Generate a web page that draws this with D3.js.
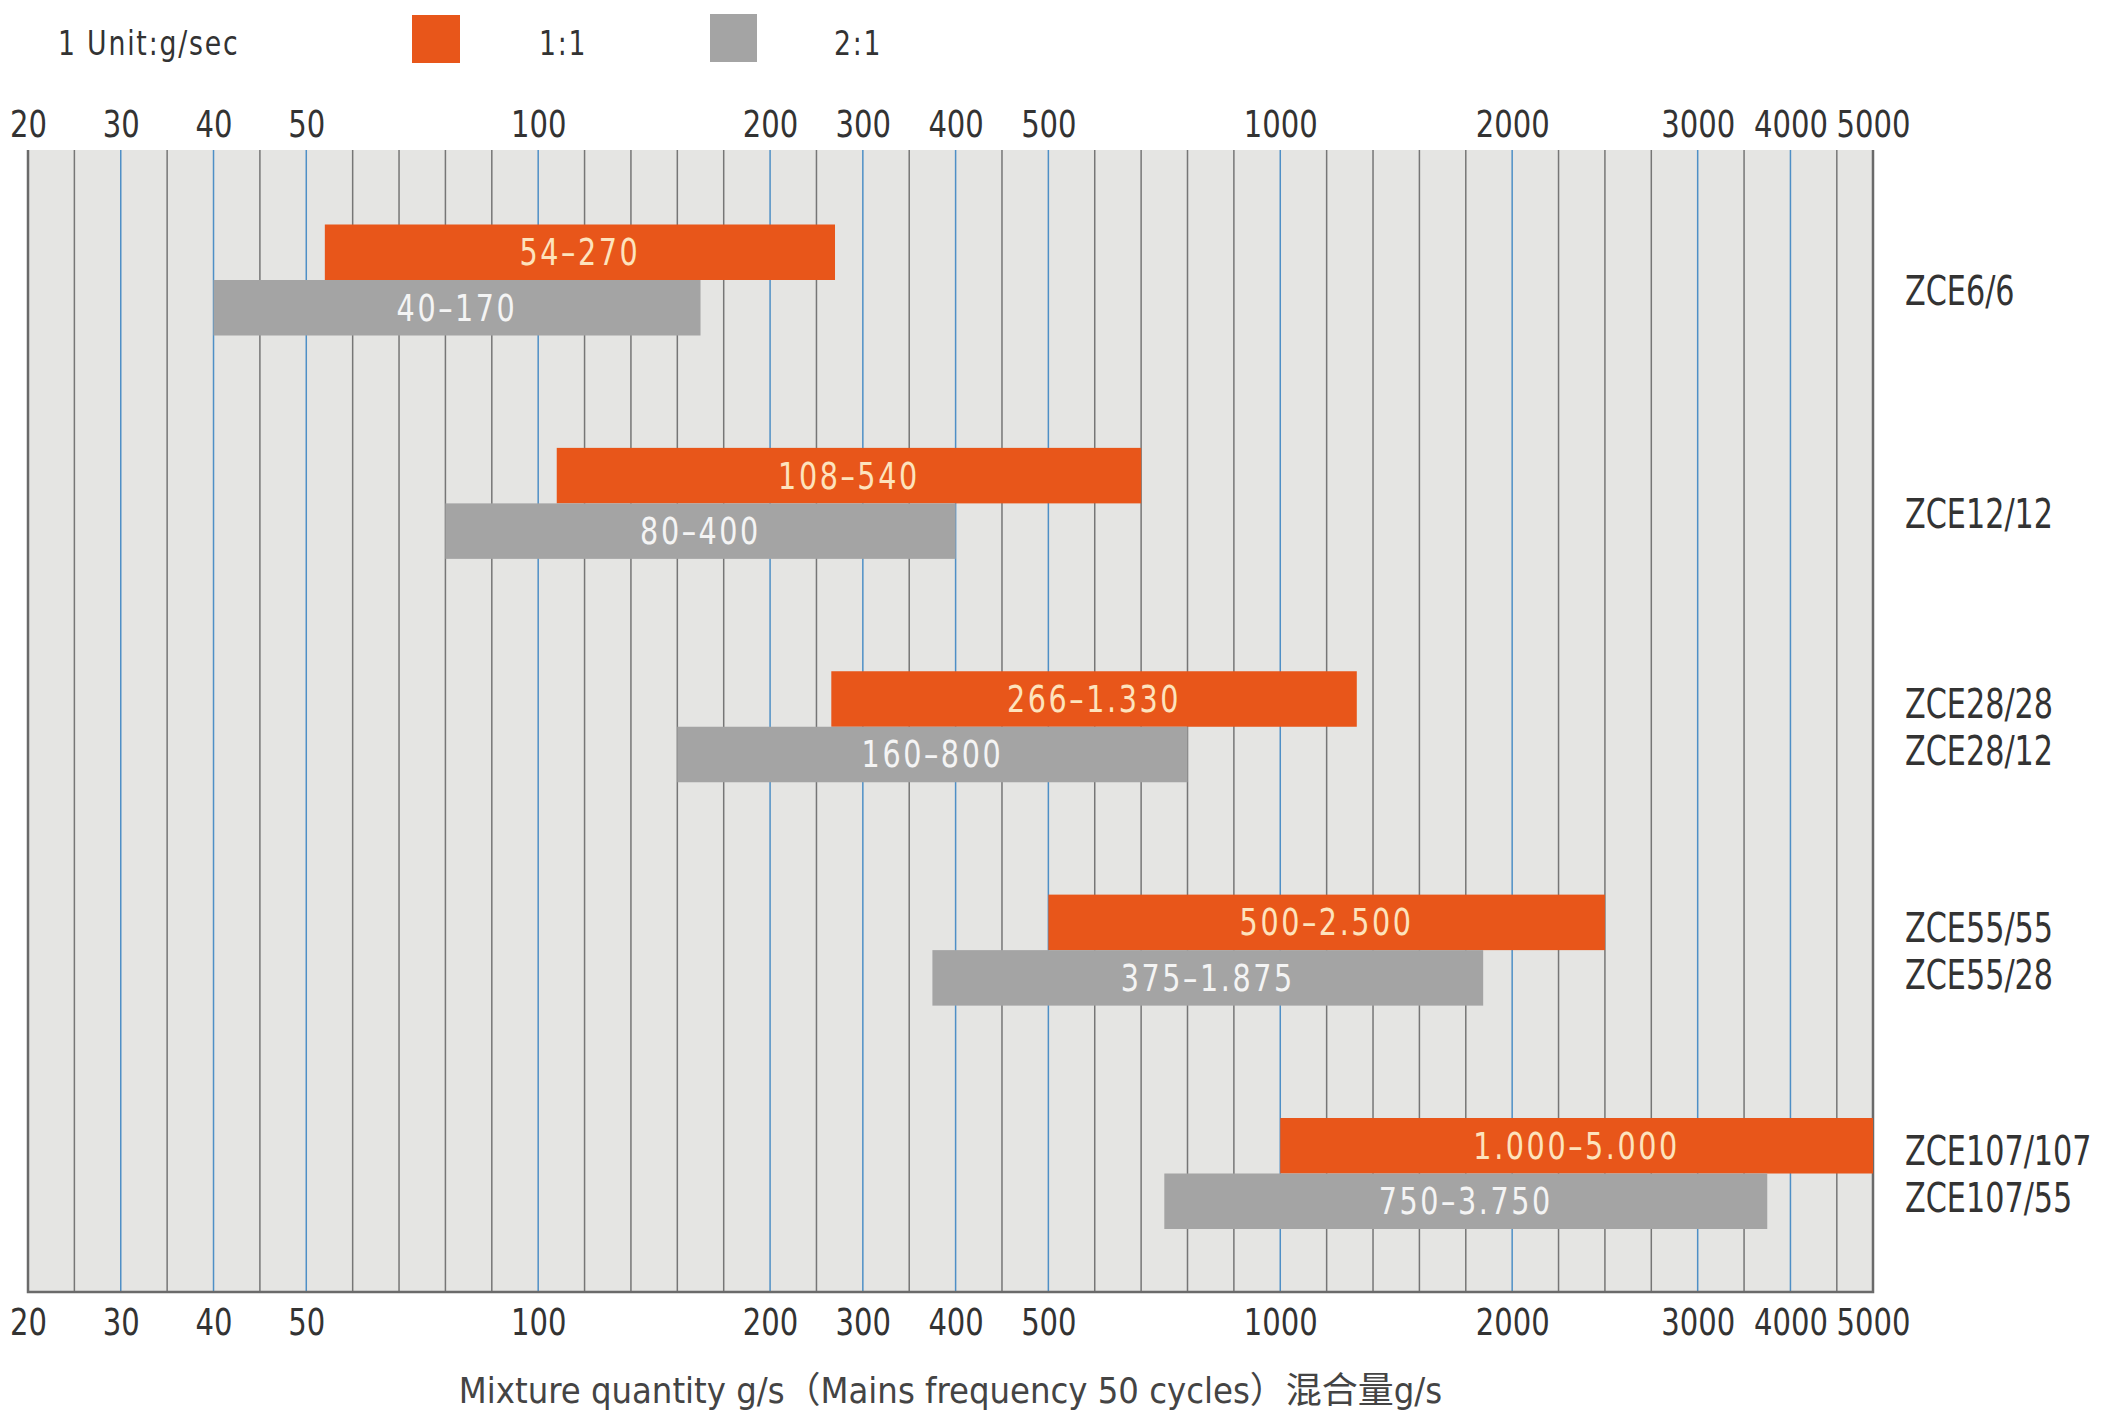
<!DOCTYPE html>
<meta charset="utf-8">
<title>ZCE mixture quantity</title>
<style>
  body { margin: 0; background: #fff; }
  text { font-family: "DejaVu Sans Condensed", "DejaVu Sans", "Noto Sans CJK SC", sans-serif; font-stretch: condensed; fill: #333; }
</style>
<body>
<div id="chart"></div>
<script src="https://d3js.org/d3.v7.min.js"></script>
<script>

// data
var groups = ["ZCE6", "ZCE12", "ZCE28", "ZCE55", "ZCE107"];
var modelLabels = [["ZCE6/6"], ["ZCE12/12"], ["ZCE28/28", "ZCE28/12"], ["ZCE55/55", "ZCE55/28"], ["ZCE107/107", "ZCE107/55"]];
var ratio11 = [[54, 270], [108, 700], [266, 1330], [500, 2500], [1000, 5000]];
var ratio11Labels = ["54–270", "108–540", "266–1.330", "500–2.500", "1.000–5.000"];
var ratio21 = [[40, 170], [80, 400], [160, 800], [375, 1875], [750, 3750]];
var ratio21Labels = ["40–170", "80–400", "160–800", "375–1.875", "750–3.750"];
var tickValues = [20, 30, 40, 50, 100, 200, 300, 400, 500, 1000, 2000, 3000, 4000, 5000];

var W = 2122, H = 1414;
var plot = {left: 28, right: 1873, top: 150, bottom: 1292};
var orange = "#e8561a", grey = "#a4a4a4";

var svg = d3.select("#chart").append("svg")
    .attr("width", W).attr("height", H);

// narrow a text horizontally around its anchor point (the print uses a condensed face)
function squeeze(sel, s) {
  sel.attr("transform", function() {
    var tx = +this.getAttribute("x") || 0, ty = +this.getAttribute("y") || 0;
    return "translate(" + tx + "," + ty + ") scale(" + s + ",1) translate(" + (-tx) + "," + (-ty) + ")";
  });
}

// the axis is hand drawn: each tick sits on a line of an even 40 step grid
var tickGrid = [0, 2, 4, 6, 11, 16, 18, 20, 22, 27, 32, 36, 38, 39.78];
var gx = d3.scaleLinear().domain([0, 39.78]).range([plot.left, plot.right]);
var x = d3.scaleLinear().domain(tickValues).range(tickGrid.map(gx));

var y = d3.scalePoint().domain(groups).range([280, 1173.5]);
var barH = 55.5;

// plot background
svg.append("rect")
    .attr("x", plot.left).attr("y", plot.top)
    .attr("width", plot.right - plot.left).attr("height", plot.bottom - plot.top)
    .attr("fill", "#e5e5e3");

// grid lines
var gridIdx = d3.range(1, 40);
svg.append("g").selectAll("line")
  .data(gridIdx)
  .enter().append("line")
    .attr("x1", function(d) { return gx(d); })
    .attr("x2", function(d) { return gx(d); })
    .attr("y1", plot.top).attr("y2", plot.bottom)
    .attr("stroke", function(d) { return tickGrid.indexOf(d) >= 0 ? "#4e8fc6" : "#767676"; })
    .attr("stroke-width", 1.5);

// frame: left, right, bottom
svg.append("path")
    .attr("d", "M" + plot.left + "," + plot.top + "V" + plot.bottom + "H" + plot.right + "V" + plot.top)
    .attr("fill", "none").attr("stroke", "#6a6a6a").attr("stroke-width", 2.5);

// bars
var g = svg.append("g");
g.selectAll(".b11").data(ratio11).enter().append("rect")
    .attr("x", function(d) { return x(d[0]); })
    .attr("width", function(d) { return x(d[1]) - x(d[0]); })
    .attr("y", function(d, i) { return y(groups[i]) - barH; })
    .attr("height", barH)
    .attr("fill", orange);
g.selectAll(".b21").data(ratio21).enter().append("rect")
    .attr("x", function(d) { return x(d[0]); })
    .attr("width", function(d) { return x(d[1]) - x(d[0]); })
    .attr("y", function(d, i) { return y(groups[i]); })
    .attr("height", barH)
    .attr("fill", grey);

// bar labels
g.selectAll(".l11").data(ratio11).enter().append("text")
    .attr("x", function(d) { return (x(d[0]) + x(d[1])) / 2; })
    .attr("y", function(d, i) { return y(groups[i]) - barH / 2 + 13; })
    .attr("text-anchor", "middle")
    .style("font-size", "37px").style("letter-spacing", "3px")
    .style("fill", "#fde3bd")
    .text(function(d, i) { return ratio11Labels[i]; })
    .call(squeeze, 0.86);
g.selectAll(".l21").data(ratio21).enter().append("text")
    .attr("x", function(d) { return (x(d[0]) + x(d[1])) / 2; })
    .attr("y", function(d, i) { return y(groups[i]) + barH / 2 + 13; })
    .attr("text-anchor", "middle")
    .style("font-size", "37px").style("letter-spacing", "3px")
    .style("fill", "#f4f4f4")
    .text(function(d, i) { return ratio21Labels[i]; })
    .call(squeeze, 0.86);

// axes top and bottom
function styleAxis(sel) {
  sel.select(".domain").remove();
  sel.selectAll(".tick line").remove();
  sel.selectAll(".tick text")
    .style("font-size", "38px")
    .style("font-family", null)
    .attr("fill", "#333")
    .attr("transform", "scale(0.85,1)");
}
svg.append("g")
    .attr("transform", "translate(0,137)")
    .call(d3.axisTop(x).tickValues(tickValues).tickSize(0).tickPadding(0).tickFormat(d3.format("d")))
    .call(styleAxis);
svg.append("g")
    .attr("transform", "translate(0,1308)")
    .call(d3.axisBottom(x).tickValues(tickValues).tickSize(0).tickPadding(0).tickFormat(d3.format("d")))
    .call(styleAxis);

// model names on the right
modelLabels.forEach(function(names, i) {
  names.forEach(function(n, j) {
    svg.append("text")
        .attr("x", 1905)
        .attr("y", y(groups[i]) + (j - (names.length - 1) / 2) * 47 + (names.length === 1 ? 25 : 15))
        .style("font-size", "41px")
        .text(n)
        .call(squeeze, 0.82);
  });
});

// legend
svg.append("text").attr("x", 58).attr("y", 55)
    .style("font-size", "33px").style("letter-spacing", "2px")
    .text("1 Unit:g/sec")
    .call(squeeze, 0.9);
svg.append("rect").attr("x", 412).attr("y", 15).attr("width", 48).attr("height", 48).attr("fill", orange);
svg.append("text").attr("x", 539).attr("y", 55)
    .style("font-size", "33px").style("letter-spacing", "2px").text("1:1")
    .call(squeeze, 0.9);
svg.append("rect").attr("x", 710).attr("y", 14).attr("width", 47).attr("height", 48).attr("fill", grey);
svg.append("text").attr("x", 834).attr("y", 55)
    .style("font-size", "33px").style("letter-spacing", "2px").text("2:1")
    .call(squeeze, 0.9);

// axis title
svg.append("text")
    .attr("x", (plot.left + plot.right) / 2).attr("y", 1403)
    .attr("text-anchor", "middle")
    .style("font-size", "36px")
    .style("fill", "#444")
    .text("Mixture quantity g/s（Mains frequency 50 cycles）混合量g/s");

</script>
</body>
